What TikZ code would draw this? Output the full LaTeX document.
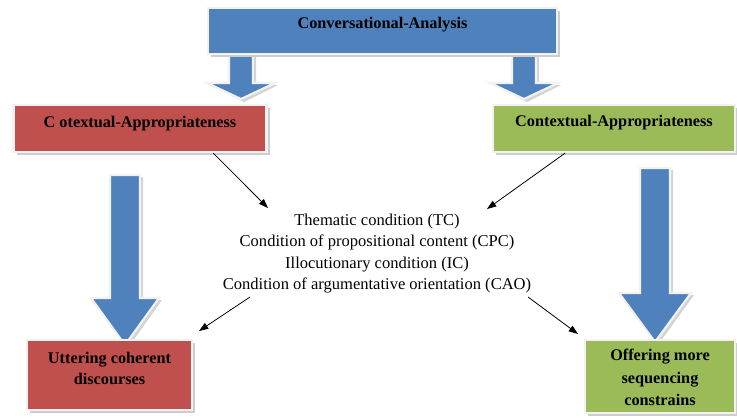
\documentclass[tikz,border=0pt]{standalone}
\usepackage{fontspec}
\setmainfont{Liberation Serif}
\usetikzlibrary{arrows.meta,calc}
\definecolor{boxblue}{HTML}{4F81BD}
\definecolor{boxred}{HTML}{C0504D}
\definecolor{boxgreen}{HTML}{9BBB59}
\definecolor{rimgray}{HTML}{F2F2F2}
\definecolor{shadegray}{HTML}{B8B8B8}
\tikzset{
  panel/.style={draw=rimgray, line width=1.6pt, inner sep=0pt},
  panelshadow/.style={fill=shadegray!70},
  title/.style={font=\bfseries\fontsize{12.2}{16}\selectfont, align=center, inner sep=0pt},
  body/.style={font=\fontsize{12.4}{16.1}\selectfont, align=center, inner sep=0pt},
  fatarrow/.style={fill=boxblue, draw=rimgray, line width=1.6pt, line join=miter},
  fatshadow/.style={fill=shadegray!60},
  link/.style={draw=black, line width=0.6pt, -{Triangle[length=7pt,width=5pt]}}
}
\begin{document}
\begin{tikzpicture}[x=0.75pt,y=-0.75pt]
\useasboundingbox (0,0) rectangle (737,418);

% block arrow: top centre x, shaft top y, shaft half width, head top y, head half width, tip y
\newcommand\blockarrow[6]{%
  \fill[fatshadow] (#1-#3+3,#2+2) -- (#1+#3+3,#2+2) -- (#1+#3+3,#4+2) -- (#1+#5+3,#4+2)
    -- (#1+3,#6+3) -- (#1-#5+3,#4+2) -- (#1-#3+3,#4+2) -- cycle;
  \path[fatarrow] (#1-#3,#2) -- (#1+#3,#2) -- (#1+#3,#4) -- (#1+#5,#4)
    -- (#1,#6) -- (#1-#5,#4) -- (#1-#3,#4) -- cycle;}

% panel: name, fill, centre x, centre y, width, height
\newcommand\panel[6]{%
  \fill[panelshadow] (#3-#5/2+3,#4-#6/2+3) rectangle (#3+#5/2+3,#4+#6/2+3);
  \node[panel, fill=#2, minimum width=#5*0.75pt, minimum height=#6*0.75pt] (#1) at (#3,#4) {};}

% small arrows below the top panel
\blockarrow{241}{50}{12}{83}{34}{99}
\blockarrow{524}{50}{12}{83}{34}{99}

% panels
\panel{ca}{boxblue}{382.5}{31}{349}{46}
\node[title] (catext) at (382.5,25) {Conversational-Analysis};

\panel{cotext}{boxred}{140}{128.5}{253}{47}
\node[title] (cotextlabel) at (140,124) {C otextual-Appropriateness};

\panel{context}{boxgreen}{614}{128.5}{242}{47}
\node[title] (contextlabel) at (614,123) {Contextual-Appropriateness};

% large arrows
\blockarrow{125}{175}{15}{298}{34}{345}
\blockarrow{655}{168}{15}{293}{36}{342}

\panel{utter}{boxred}{109.5}{375}{165}{70}
\node[title, font=\bfseries\fontsize{12.2}{15.8}\selectfont] (utterlabel) at (109.5,368)
  {Uttering coherent\\discourses};

\panel{offer}{boxgreen}{660}{376.5}{150}{73}
\node[title, font=\bfseries\fontsize{12.2}{16.9}\selectfont] (offerlabel) at (660,377.5)
  {Offering more\\sequencing\\constrains};

% conditions
\node[body] (conds) at (377,253.5)
  {Thematic condition (TC)\\
   Condition of propositional content (CPC)\\
   Illocutionary condition (IC)\\
   Condition of argumentative orientation (CAO)};

% connector end points
\coordinate (cotextout) at ($(cotext.south west)!0.787!(cotext.south east)$);
\coordinate (contextout) at ($(context.south west)!0.3!(context.south east)$);
\coordinate (condsin1) at (268,208);
\coordinate (condsin2) at (487,209);
\coordinate (condsout1) at (250,297);
\coordinate (condsout2) at (528,297);
\coordinate (utterin) at (199,331);
\coordinate (offerin) at (578,334);

\draw[link] (cotextout) -- (condsin1);
\draw[link] (contextout) -- (condsin2);
\draw[link] (condsout1) -- (utterin);
\draw[link] (condsout2) -- (offerin);
\end{tikzpicture}
\end{document}
